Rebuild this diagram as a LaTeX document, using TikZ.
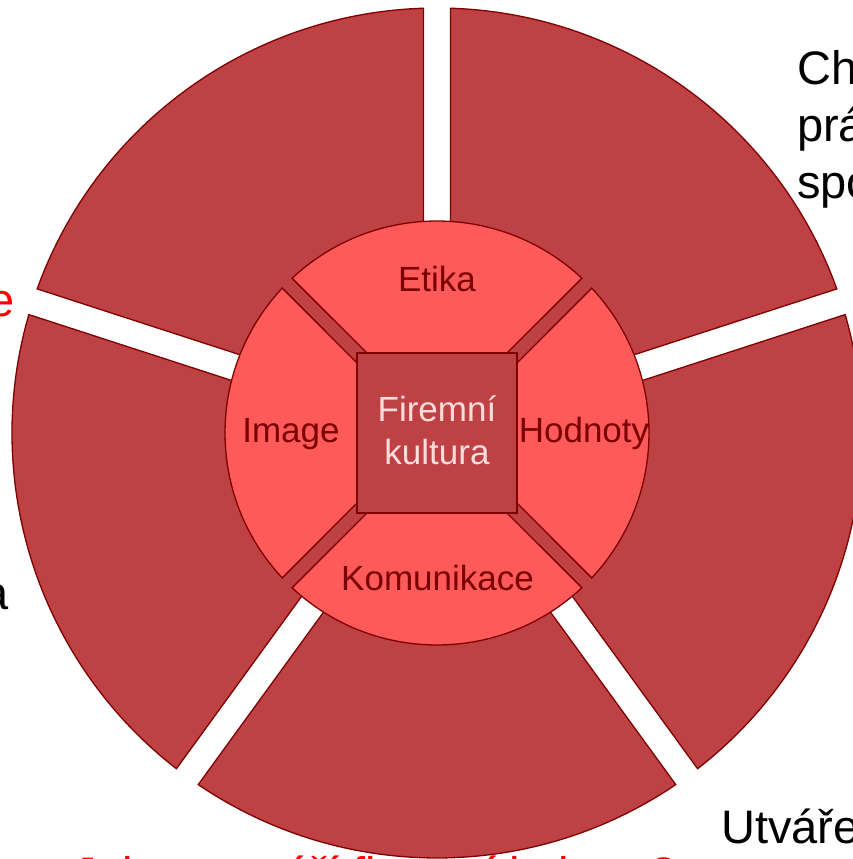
\documentclass[tikz,border=0pt]{standalone}
\usepackage{fontspec}
\setmainfont{Liberation Sans}
\definecolor{outerfill}{HTML}{BE4144}
\definecolor{innerfill}{HTML}{FF5A5A}
\definecolor{edge}{HTML}{7F0000}
\definecolor{lbl}{HTML}{7A0000}
\definecolor{ctext}{HTML}{FFDCDC}
\tikzset{
  outerseg/.style={fill=outerfill, draw=edge, line width=1.3pt, line join=miter},
  innerseg/.style={fill=innerfill, draw=edge, line width=1.3pt},
  inlabel/.style={font=\fontsize{35}{42}\selectfont, text=lbl, inner sep=0pt, anchor=base},
  outlabel/.style={font=\fontsize{47}{54}\selectfont, inner sep=0pt},
}
\begin{document}
\begin{tikzpicture}[x=1pt,y=1pt]
\useasboundingbox (-437,-426) rectangle (416,433);
% red text cut by the bottom edge (only its tops show)
\node[outlabel, anchor=base west, text=red] (bottom) at (-364,-457) {Jak se utváří firemní kultura?};
% outer ring segments
\foreach \a in {18,90,162,234,306} {
  \pgfmathsetmacro{\b}{\a+72}
  \pgfmathsetmacro{\m}{\a+36}
  \pgfmathsetmacro{\s}{\a+1.82}
  \pgfmathsetmacro{\e}{\b-1.82}
  \draw[outerseg] (\m:23) -- (\s:425) arc[start angle=\s, end angle=\e, radius=425pt] -- cycle;
}
% dark backing behind the inner ring
\fill[outerfill] (0,0) circle[radius=208pt];
% inner ring segments
\foreach \a/\nm in {45/etika,135/image,225/komu,-45/hodn} {
  \pgfmathsetmacro{\b}{\a+90}
  \pgfmathsetmacro{\m}{\a+45}
  \pgfmathsetmacro{\s}{\a+1.89}
  \pgfmathsetmacro{\e}{\b-1.89}
  \draw[innerseg] (\m:10) -- (\s:212) arc[start angle=\s, end angle=\e, radius=212pt] -- cycle;
}
% centre square
\node[draw=edge, fill=outerfill, line width=1.3pt, minimum size=160pt, inner sep=0pt] (core) at (0,0) {};
\node[inlabel, text=ctext] (firemni) at (0,11) {Firemní};
\node[inlabel, text=ctext] (kultura) at (0,-32) {kultura};
% inner labels
\node[inlabel] (etika) at (0,141) {Etika};
\node[inlabel] (image) at (-146,-10) {Image};
\node[inlabel] (hodnoty) at (147,-10) {Hodnoty};
\node[inlabel] (komunikace) at (0.5,-157) {Komunikace};
% outer texts (cut by the picture edge)
\node[outlabel, anchor=base west] (ch) at (360,348) {Ch};
\node[outlabel, anchor=base west] (pra) at (360,291) {prá};
\node[outlabel, anchor=base west] (spe) at (360,234) {spo};
\node[outlabel, anchor=base east, text=red] (le) at (-422,116) {e};
\node[outlabel, anchor=base east] (la) at (-428,-176) {a};
\node[outlabel, anchor=base west] (utv) at (284,-410) {Utvářen};
\end{tikzpicture}
\end{document}
